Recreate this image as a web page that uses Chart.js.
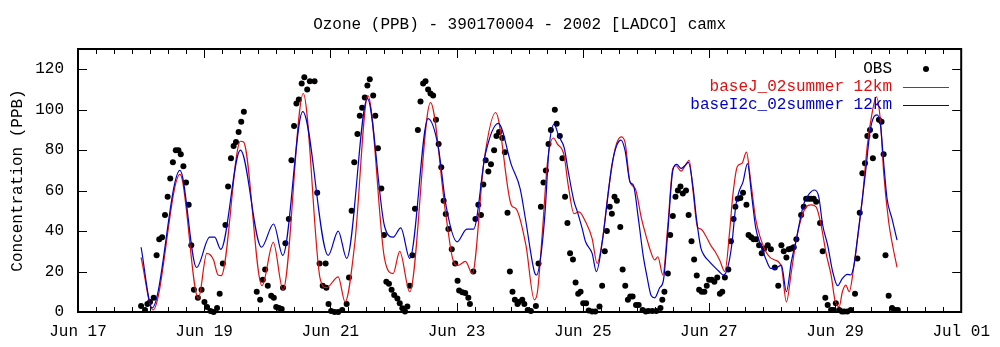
<!DOCTYPE html>
<html>
<head>
<meta charset="utf-8">
<script src="https://cdn.jsdelivr.net/npm/chart.js@4/dist/chart.umd.min.js"></script>
<style>
  html, body { margin: 0; padding: 0; background: #fff; }
  #wrap { width: 1000px; height: 347px; }
</style>
</head>
<body>
<div id="wrap"><canvas id="c" width="1000" height="347"></canvas></div>
<script>
'use strict';

// hours are counted from Jun 18 00:00
const START = 24; // Jun 18 00:00 expressed in hours after Jun 17 00:00

const title = 'Ozone (PPB) - 390170004 - 2002 [LADCO] camx';
const yTitle = 'Concentration (PPB)';
const xTickLabels = ['Jun 17', 'Jun 19', 'Jun 21', 'Jun 23', 'Jun 25', 'Jun 27', 'Jun 29', 'Jul 01'];
const yTicks = [0, 20, 40, 60, 80, 100, 120];
const seriesNames = ['OBS', 'baseJ_02summer 12km', 'baseI2c_02summer 12km'];

// observed hourly ozone [hour, ppb]
const obs = [
  [0, 3], [1.5, 1], [2.4, 4], [3.4, 5], [4.8, 7], [5.9, 28], [6.9, 36], [8, 37], [9.1, 48], [10.1, 57],
  [11.1, 66], [12.1, 74], [13.2, 80], [14.2, 80], [15.1, 78], [16.1, 72], [17.1, 64], [18.1, 53], [19.1, 33],
  [20.1, 11], [21.6, 7], [23, 11], [24.1, 5], [25.1, 2.5], [26.4, 0.5], [27.6, 0], [28.9, 2], [29.9, 9],
  [31.1, 24], [32.1, 43], [33.1, 62], [34.2, 76], [35.2, 82], [36.1, 84], [37.1, 89], [38.1, 94], [39.1, 99],
  [44, 10], [45.3, 6], [46.3, 16], [47.2, 21], [48.2, 13], [49.5, 8], [50.5, 7], [51.4, 2.5], [52.5, 2],
  [53.5, 1.5], [54, 12], [54.9, 34], [56.2, 46], [57.2, 75], [58.2, 92], [59.1, 103], [60, 105], [61.1, 113],
  [62.1, 116], [63.2, 110], [64.2, 114], [66, 114], [67, 59], [67.9, 24], [69.1, 13], [70.2, 24], [70.5, 12],
  [71.3, 4], [72.3, 0.5], [73.6, 0], [75, 0], [76.5, 1], [78.2, 4], [79.1, 17], [80.1, 50], [81.1, 74],
  [82.3, 88], [83.2, 97], [84.1, 101], [85.1, 106], [86.1, 112], [87, 115], [88.3, 107], [89.1, 97], [90.1, 81],
  [91.4, 61], [92.4, 38], [93.3, 15], [94.3, 14], [95.3, 11], [96.3, 8.4], [97.5, 6.7], [98.4, 4.3], [99.4, 1.8],
  [100.4, 0.2], [101.3, 2.7], [102.2, 13], [103.2, 28], [104.2, 51], [105.3, 90], [106.3, 104], [107.3, 113],
  [108.2, 114], [109.2, 110], [110.1, 108], [111.1, 107], [112.2, 95], [113.2, 83], [114.2, 71.5], [115.1, 55],
  [115.9, 48.5], [116.9, 41], [118.2, 31], [119.5, 24], [120.4, 15.5], [121, 10.6], [122.2, 9.8], [123.3, 9.4],
  [124.5, 7], [125.1, 4], [126.4, 20], [127.2, 46], [128.3, 53], [129.3, 48], [130.2, 63], [131.1, 75],
  [132.1, 69.5], [133.1, 73], [134.3, 80], [135.2, 87], [136.2, 89], [137.4, 86], [138.4, 79], [139.4, 49],
  [140.3, 20], [141.3, 10], [142.2, 6], [143.2, 4], [143.7, 5], [145, 6], [145.8, 4], [147.1, 1], [148.3, 0.5],
  [150.2, 3], [151.2, 24], [152.1, 52], [153.1, 64], [154, 70], [155, 83], [155.9, 90], [157.4, 100], [158.1, 93],
  [159.3, 87], [160.3, 76], [161.3, 57], [162.2, 44], [163.2, 29], [164.3, 26], [165.3, 14.6], [166.3, 9],
  [167.2, 10], [168.2, 4.3], [169.3, 4.3], [170.3, 0.7], [171.6, 0.2], [172.8, 0.2], [174.4, 2.7], [175.4, 13],
  [176.4, 30], [177.2, 40], [178.3, 52], [179.1, 48.6], [180.1, 57], [181, 55], [182.3, 42], [183.2, 21],
  [184.2, 13], [185.2, 6], [186.1, 7.6], [187, 7.6], [188.3, 3.5], [189.3, 3.5], [190.8, 1], [192, 0.2],
  [193, 0.5], [194.5, 0.5], [196, 0.5], [197.6, 2], [198.3, 6], [199.1, 10], [200.4, 19], [201.3, 38],
  [202.3, 47.5], [203.3, 57], [204.2, 60], [205.2, 62], [206.1, 58.6], [207.3, 60], [208.3, 48], [209.4, 35],
  [210.4, 26], [211.4, 18], [212.3, 11], [213.3, 10], [214.3, 10], [215.2, 13], [216.1, 16], [217.1, 16],
  [218.1, 15], [219.2, 17], [220.2, 9], [221.1, 10], [222.1, 17], [223.4, 21], [224.4, 35], [225.4, 46],
  [226.1, 52], [227, 56], [228, 56.4], [229, 59], [230.3, 53], [231.1, 38], [232.1, 37], [233, 36], [234, 36],
  [235.1, 33], [236.1, 29], [237.1, 31.4], [238.4, 33], [239.6, 31], [241.1, 22], [242.4, 13], [243.6, 33],
  [244.5, 30], [245.5, 27], [246.4, 31], [247.4, 31.4], [248.3, 32], [249.3, 36], [251.1, 48], [252.1, 52],
  [253, 56], [254, 56], [254.9, 56], [255.9, 56], [256.8, 54.5], [258.3, 44], [259.3, 30], [260.3, 7],
  [261.2, 3.5], [262.5, 1], [263.5, 1], [264.3, 4.3], [265.6, 1], [266.6, 0.2], [267.5, 0.2], [268.7, 0.2],
  [270, 1], [271.6, 9], [272.5, 26.5], [273.4, 49], [274.4, 68.6], [275.4, 73.5], [276.3, 87], [277.3, 90],
  [278.4, 76], [279.4, 87], [280.7, 95], [281.7, 94], [282.5, 78], [283.2, 28], [284.4, 8], [285.7, 2],
  [286.9, 1], [287.9, 1]
];

// model baseJ_02summer 12km [hour, ppb]
const baseJ = [
  [0, 27], [4.5, 1], [14.8, 68], [21.8, 6.7], [25, 29], [27.5, 26], [29.3, 18.3], [30.5, 18], [37.8, 84.4],
  [39, 84], [46, 13], [50.3, 34.4], [54, 11], [61.7, 108], [68.1, 16.6], [70.5, 12], [75, 17.4], [77.6, 5],
  [81.3, 34], [86.3, 107], [92.6, 26.5], [95.9, 19], [98.4, 30], [102.2, 10], [110.1, 103.5], [115.8, 49.5],
  [118.5, 26.5], [120.5, 23], [123.4, 25], [126, 19], [130.5, 75], [134.9, 98.6], [140.9, 52.7], [142.7, 51],
  [146.4, 33], [149.6, 6], [150.8, 10], [152.7, 40], [154.6, 74], [156.8, 86], [158.4, 83], [160.9, 77.5],
  [162.5, 62.6], [164.7, 48.6], [166.6, 49.5], [169.1, 44.6], [171.6, 36.3], [173.5, 24], [175.4, 34.7],
  [177.9, 61], [180.4, 81], [182.6, 86.6], [184.1, 84], [186, 64.3], [188, 61], [190.4, 46], [192.4, 36.3],
  [193.5, 31.4], [195.4, 25.7], [196.6, 27.3], [198.5, 18.3], [200.4, 43], [202.3, 71], [203.5, 72.3],
  [205.4, 69.6], [207, 72.3], [208.5, 75], [210, 59.6], [211.7, 41.8], [213, 41], [214.8, 37.7], [216.7, 33],
  [218.3, 30], [220.1, 25.7], [222.1, 20], [223.9, 39.7], [225.1, 57.4], [226.8, 71.8], [228.6, 73.5],
  [230.3, 79], [231.8, 66], [233.8, 46], [235.7, 36.3], [237.6, 30], [239.3, 27], [241.1, 25.7], [243.6, 22.4],
  [245.5, 5], [247.4, 20], [249.3, 36.3], [251.1, 46], [253, 52], [254.9, 53], [256.8, 52], [258.7, 43],
  [260.6, 29], [262.5, 18.3], [264.1, 5], [265.6, 2.7], [266.8, 10], [268.1, 13.3], [269.4, 10], [271.2, 23],
  [272.9, 39.7], [274.4, 56], [276.3, 82.5], [278.2, 99], [279.7, 106.4], [281.3, 94], [282.5, 69],
  [284.4, 44.6], [285.9, 33], [287.6, 22]
];

// model baseI2c_02summer 12km [hour, ppb]
const baseI2c = [
  [0, 32], [4.2, 2], [14.8, 70], [21.1, 22], [26.1, 37], [28, 37], [30.3, 31], [37.8, 80], [45.8, 32],
  [50.4, 43.5], [53.9, 28], [61.5, 99], [71.2, 28], [75, 40], [78.2, 26.5], [86.1, 105.5], [92.6, 42.5],
  [95.9, 37], [98.8, 41.6], [102.2, 26.5], [109.2, 95.6], [113, 82], [116, 52.7], [120.2, 34.7], [123.9, 41],
  [126.5, 41], [130.9, 77.5], [135.9, 93.2], [140.9, 72.6], [144.2, 61], [146.4, 44.6], [149.6, 20],
  [150.5, 18.3], [152.1, 28], [153.7, 49.5], [155.2, 81], [157.1, 92.7], [159, 86.6], [161, 81], [162.5, 69.5],
  [164.7, 54.7], [166, 49.5], [167.8, 41.3], [169.1, 34.7], [171.6, 29], [173.2, 20], [175.6, 36], [177.2, 53],
  [179.1, 72.6], [181, 82.5], [182.6, 85], [184.1, 80], [186, 64.3], [187.3, 62.6], [189.2, 46], [191, 28],
  [192.4, 18], [194.1, 8], [195.4, 7], [197.3, 12], [198.7, 15.5], [200.4, 40], [202.3, 70], [203.8, 73],
  [205.4, 71], [206.6, 72], [208.2, 74], [209.9, 62.6], [211.3, 46], [212.9, 32], [214.2, 28], [216.1, 25],
  [218, 22.4], [219.9, 20], [221.5, 18.3], [223.1, 21.6], [224.7, 33], [226.3, 53], [227.5, 59.6], [229, 64.3],
  [230.7, 73.3], [232.3, 57.4], [233.8, 41.8], [235.7, 33], [237.6, 26.5], [239.5, 21.6], [241.1, 21.6],
  [243.6, 23.2], [245.5, 10], [247.4, 25], [249.3, 36], [251.1, 48], [252.4, 54.5], [254.3, 58.6],
  [256.2, 60.3], [257.8, 57], [259.3, 43], [261.2, 33], [263.1, 20], [265, 13], [266.8, 16.6], [268.7, 18.6],
  [270, 18.3], [271.2, 23], [272.5, 36], [274.4, 56], [275.6, 69], [277.3, 89], [278.8, 96.5], [280, 97.4],
  [281.3, 92.4], [282.5, 74], [283.8, 56], [285.7, 46], [287.6, 35.5]
];

const FONT = '16px "Liberation Mono", "DejaVu Sans Mono", monospace';
const RED = '#e01010';
const BLUE = '#0000c8';

const toXY = arr => arr.map(([h, v]) => ({ x: h + START, y: v }));

// gnuplot-ish frame, inward ticks, titles and key
const gnuplotDecor = {
  id: 'gnuplotDecor',
  afterDraw(chart) {
    const { ctx, chartArea: a, scales } = chart;
    const xs = scales.x, ys = scales.y;
    ctx.save();

    ctx.strokeStyle = '#000';
    ctx.lineWidth = 1;
    ctx.beginPath();
    xs.ticks.forEach((t, i) => {
      const px = Math.round(xs.getPixelForValue(t.value)) + 0.5;
      const len = i % 7 === 0 ? 9 : 5;
      ctx.moveTo(px, a.bottom); ctx.lineTo(px, a.bottom - len);
      ctx.moveTo(px, a.top); ctx.lineTo(px, a.top + len);
    });
    ys.ticks.forEach(t => {
      const py = Math.round(ys.getPixelForValue(t.value)) + 0.5;
      ctx.moveTo(a.left, py); ctx.lineTo(a.left + 9, py);
      ctx.moveTo(a.right, py); ctx.lineTo(a.right - 9, py);
    });
    ctx.stroke();

    ctx.lineWidth = 2;
    ctx.strokeRect(a.left, a.top, a.right - a.left, a.bottom - a.top);

    ctx.font = FONT;
    ctx.fillStyle = '#000';
    ctx.textAlign = 'center';
    ctx.textBaseline = 'middle';
    ctx.fillText(title, (a.left + a.right) / 2, 25);

    ctx.save();
    ctx.translate(18, (a.top + a.bottom) / 2);
    ctx.rotate(-Math.PI / 2);
    ctx.fillText(yTitle, 0, 0);
    ctx.restore();

    // key
    const textRight = 892, sx0 = 903, sx1 = 949;
    const rows = [69, 87, 105];
    const colors = ['#000', RED, BLUE];
    ctx.textAlign = 'right';
    seriesNames.forEach((name, i) => {
      ctx.fillStyle = colors[i];
      ctx.fillText(name, textRight, rows[i]);
    });
    ctx.fillStyle = '#000';
    ctx.beginPath();
    ctx.arc((sx0 + sx1) / 2, rows[0], 3, 0, Math.PI * 2);
    ctx.fill();
    ctx.lineWidth = 1.2;
    [[RED, rows[1]], [BLUE, rows[2]]].forEach(([c, y]) => {
      ctx.strokeStyle = c;
      ctx.beginPath();
      ctx.moveTo(sx0, y + 0.5); ctx.lineTo(sx1, y + 0.5);
      ctx.stroke();
    });
    ctx.restore();
  }
};

new Chart(document.getElementById('c'), {
  type: 'scatter',
  data: {
    datasets: [
      {
        label: seriesNames[0],
        data: toXY(obs),
        showLine: false,
        pointRadius: 3,
        pointBackgroundColor: '#000',
        pointBorderWidth: 0,
        order: 3,
        clip: false
      },
      {
        label: seriesNames[1],
        data: toXY(baseJ),
        showLine: true,
        borderColor: RED,
        borderWidth: 1.2,
        pointRadius: 0,
        cubicInterpolationMode: 'monotone',
        order: 2,
        clip: false
      },
      {
        label: seriesNames[2],
        data: toXY(baseI2c),
        showLine: true,
        borderColor: BLUE,
        borderWidth: 1.2,
        pointRadius: 0,
        cubicInterpolationMode: 'monotone',
        order: 1,
        clip: false
      }
    ]
  },
  options: {
    responsive: false,
    animation: false,
    layout: { padding: { top: 49, right: 29, left: 0, bottom: 0 } },
    plugins: { legend: { display: false }, tooltip: { enabled: false }, title: { display: false } },
    scales: {
      x: {
        type: 'linear',
        min: 0,
        max: 336,
        afterBuildTicks: s => {
          s.ticks = [];
          for (let i = 0; i <= 49; i++) s.ticks.push({ value: i * 48 / 7 });
        },
        afterFit: s => { s.height = 35; },
        grid: { display: false, drawTicks: false },
        border: { display: false },
        ticks: {
          autoSkip: false,
          maxRotation: 0,
          padding: 10,
          color: '#000',
          font: { family: '"Liberation Mono", monospace', size: 16 },
          callback: (v, i) => (i % 7 === 0 ? xTickLabels[i / 7] : '')
        }
      },
      y: {
        min: 0,
        max: 130,
        afterBuildTicks: s => { s.ticks = yTicks.map(v => ({ value: v })); },
        afterFit: s => { s.width = 78; },
        grid: { display: false, drawTicks: false },
        border: { display: false },
        ticks: {
          padding: 14,
          color: '#000',
          font: { family: '"Liberation Mono", monospace', size: 16 }
        }
      }
    }
  },
  plugins: [gnuplotDecor]
});
</script>
</body>
</html>
